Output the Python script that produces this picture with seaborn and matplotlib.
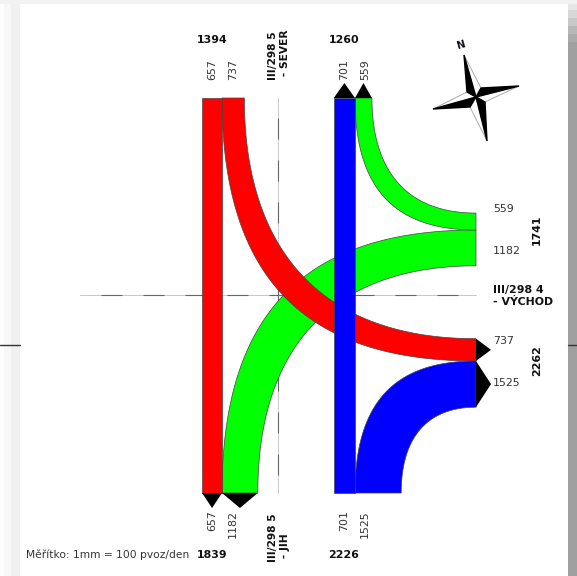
import matplotlib
matplotlib.use('Agg')
import matplotlib.pyplot as plt
import numpy as np
import pandas as pd
import seaborn as sns

# Traffic flows (vehicles/day) per movement
straight_left = 657
straight_right = 701
north_east = 559
north_south_east = 737
south_east_left = 1182
south_east_right = 1525

north_total = 1394
north_total_right = 1260
south_total = 1839
south_total_right = 2226
east_total_top = 1741
east_total_bottom = 2262

north_labels = ['657', '737', '701', '559']
south_labels = ['657', '1182', '701', '1525']
east_labels = ['559', '1182', '737', '1525']

# Layout in pixels of the 577x576 picture
W, H = 577, 576
SCALE = 0.0303      # px per vehicle
TOP, BOTTOM, RIGHT = 98, 493, 476
X_LEFT, X_RIGHT = 222, 355
Y_UPPER, Y_LOWER = 230, 361
HEAD = 15
BEND_OUTER = 0.68
BEND_INNER = 0.65


def bezier(x0, y0, x1, y1, k, n=80):
    # vertical at the start, horizontal at the end
    t = np.linspace(0, 1, n)[:, None]
    p0, p3 = np.array([x0, y0]), np.array([x1, y1])
    p1 = np.array([x0, y0 + k * (y1 - y0)])
    p2 = np.array([x1 - k * (x1 - x0), y1])
    return (1 - t) ** 3 * p0 + 3 * (1 - t) ** 2 * t * p1 + 3 * (1 - t) * t ** 2 * p2 + t ** 3 * p3


def ribbon(ax, x0, x1, y_end, y_start, color):
    # curved band between a vertical arm and the east arm
    outer = bezier(x0, y_start, RIGHT, y_end[0], BEND_OUTER)
    inner = bezier(x1, y_start, RIGHT, y_end[1], BEND_INNER)
    pts = np.vstack([outer, inner[::-1]])
    ax.fill(pts[:, 0], pts[:, 1], fc=color, ec='#444444', lw=0.5)


def straight(ax, x0, width, color):
    ax.fill([x0, x0 + width, x0 + width, x0], [TOP, TOP, BOTTOM, BOTTOM],
            fc=color, ec='#444444', lw=0.5)


def head_v(ax, x0, x1, y, d):
    ax.fill([x0, x1, (x0 + x1) / 2], [y, y, y + d * HEAD], color='black', lw=0)


def head_h(ax, y0, y1, x):
    ax.fill([x, x, x + HEAD], [y0, y1, (y0 + y1) / 2], color='black', lw=0)


sns.set_theme(style='white')
plt.rcParams['font.family'] = ['DejaVu Sans']

fig = plt.figure(figsize=(W / 100, H / 100), dpi=100, facecolor='#f3f3f3')
ax = fig.add_axes([0, 0, 1, 1])
ax.set_xlim(0, W)
ax.set_ylim(H, 0)
ax.axis('off')

# Viewer background around the page
for x0, x1, c in [(0, 4, '#fdfdfd'), (4, 11, '#f7f7f7'), (11, 20, '#f0f0f0')]:
    ax.fill([x0, x1, x1, x0], [0, 0, H, H], color=c, lw=0, zorder=0)
ax.fill([0, W, W, 0], [0, 0, 4, 4], color='#f2f2f2', lw=0, zorder=0)
for y0, y1, c in [(4, 10, '#e6e6e6'), (10, 18, '#d8d8d8'), (18, 26, '#c8c8c8'),
                  (26, 34, '#b8b8b8'), (34, 42, '#aaaaaa'), (42, H, '#a0a0a0')]:
    ax.fill([568, W, W, 568], [y0, y0, y1, y1], color=c, lw=0, zorder=0)
ax.fill([20, 568, 568, 20], [4, 4, H, H], color='white', lw=0, zorder=0)
ax.plot([0, 20], [345, 345], color='#333333', lw=1, zorder=0.5)
ax.plot([568, W], [345, 345], color='#333333', lw=1, zorder=0.5)

# Road axes: faint line with dark dashes on top
axis_h = pd.DataFrame({'x': [80, RIGHT], 'y': [295, 295]})
axis_v = pd.DataFrame({'x': [278, 278], 'y': [TOP, BOTTOM]})
for d in (axis_h, axis_v):
    sns.lineplot(data=d, x='x', y='y', ax=ax, sort=False, estimator=None,
                 color='#c8c8c8', lw=0.7, zorder=0.5)
ax.plot([101, RIGHT], [295, 295], color='#666666', lw=0.8, dashes=(18.9, 18.9), zorder=0.6)
ax.plot([278, 278], [118, BOTTOM], color='#666666', lw=0.8, dashes=(18.9, 18.9), zorder=0.6)

# Band widths come from the flows
w_sl = straight_left * SCALE
w_sr = straight_right * SCALE
w_ne = north_east * SCALE
w_nse = north_south_east * SCALE
w_sel = south_east_left * SCALE
w_ser = south_east_right * SCALE

ribbon(ax, X_LEFT, X_LEFT + w_sel, (Y_UPPER, Y_UPPER + w_sel), BOTTOM, '#00ff00')
ribbon(ax, X_RIGHT, X_RIGHT + w_ne, (Y_UPPER, Y_UPPER - w_ne), TOP, '#00ff00')
ribbon(ax, X_LEFT, X_LEFT + w_nse, (Y_LOWER, Y_LOWER - w_nse), TOP, '#ff0000')
straight(ax, X_LEFT - w_sl, w_sl, '#ff0000')
ribbon(ax, X_RIGHT, X_RIGHT + w_ser, (Y_LOWER, Y_LOWER + w_ser), BOTTOM, '#0000ff')
straight(ax, X_RIGHT - w_sr, w_sr, '#0000ff')

# Arrow heads
head_v(ax, X_RIGHT - w_sr, X_RIGHT, TOP, -1)
head_v(ax, X_RIGHT, X_RIGHT + w_ne, TOP, -1)
head_v(ax, X_LEFT - w_sl, X_LEFT, BOTTOM, 1)
head_v(ax, X_LEFT, X_LEFT + w_sel, BOTTOM, 1)
head_h(ax, Y_LOWER - w_nse, Y_LOWER, RIGHT)
head_h(ax, Y_LOWER, Y_LOWER + w_ser, RIGHT)

# Compass star
center = (476, 97)
tips = [(464, 55), (519, 86), (487, 141), (433, 109)]
waists = [(467, 92), (481, 88), (485, 102), (470, 107)]
for i, tip in enumerate(tips):
    left = waists[i]
    right = waists[(i + 1) % 4]
    xs, ys = zip(tip, right, center)
    ax.fill(xs, ys, fc='white', ec='#aaaaaa', lw=0.7)
for i, tip in enumerate(tips):
    xs, ys = zip(tip, center, waists[i])
    ax.fill(xs, ys, fc='black', ec='black', lw=1.0)
ax.text(461, 45, 'N', fontsize=7.5, fontweight='bold', rotation=16, ha='center', va='center', color='#111122')

# Texts
bold = dict(fontsize=7.9, fontweight='bold', color='#111111', ha='center', va='center')

ax.text(212, 40, str(north_total), **bold)
ax.text(344, 40, str(north_total_right), **bold)
ax.text(212, 555, str(south_total), **bold)
ax.text(344, 555, str(south_total_right), **bold)
ax.text(537, 230, str(east_total_top), rotation=90, **bold)
ax.text(537, 361, str(east_total_bottom), rotation=90, **bold)

for x, lab in zip([212, 233, 344, 365], north_labels):
    ax.text(x, 80, lab, rotation=90, fontsize=7.9, color='#333333', ha='center', va='bottom')
for x, lab in zip([212, 233, 344, 365], south_labels):
    ax.text(x, 510, lab, rotation=90, fontsize=7.9, color='#333333', ha='center', va='top')
for y, lab in zip([209, 251, 341, 383], east_labels):
    ax.text(493, y, lab, fontsize=7.9, color='#333333', ha='left', va='center')

ax.text(279, 80, 'III/298 5\n - SEVER', rotation=90, fontsize=7.7, fontweight='bold',
        color='#111111', ha='center', va='bottom', linespacing=1.15, multialignment='left')
ax.text(279, 562, 'III/298 5\n - JIH', rotation=90, fontsize=7.7, fontweight='bold',
        color='#111111', ha='center', va='bottom', linespacing=1.15, multialignment='left')
ax.text(493, 296, 'III/298 4\n- VÝCHOD', fontsize=7.9, fontweight='bold',
        color='#111111', ha='left', va='center', linespacing=1.15)
ax.text(26, 555, 'Měřítko: 1mm = 100 pvoz/den', fontsize=7.7, color='#333333', ha='left', va='center')

fig.savefig('out.png', dpi=100, facecolor=fig.get_facecolor())
